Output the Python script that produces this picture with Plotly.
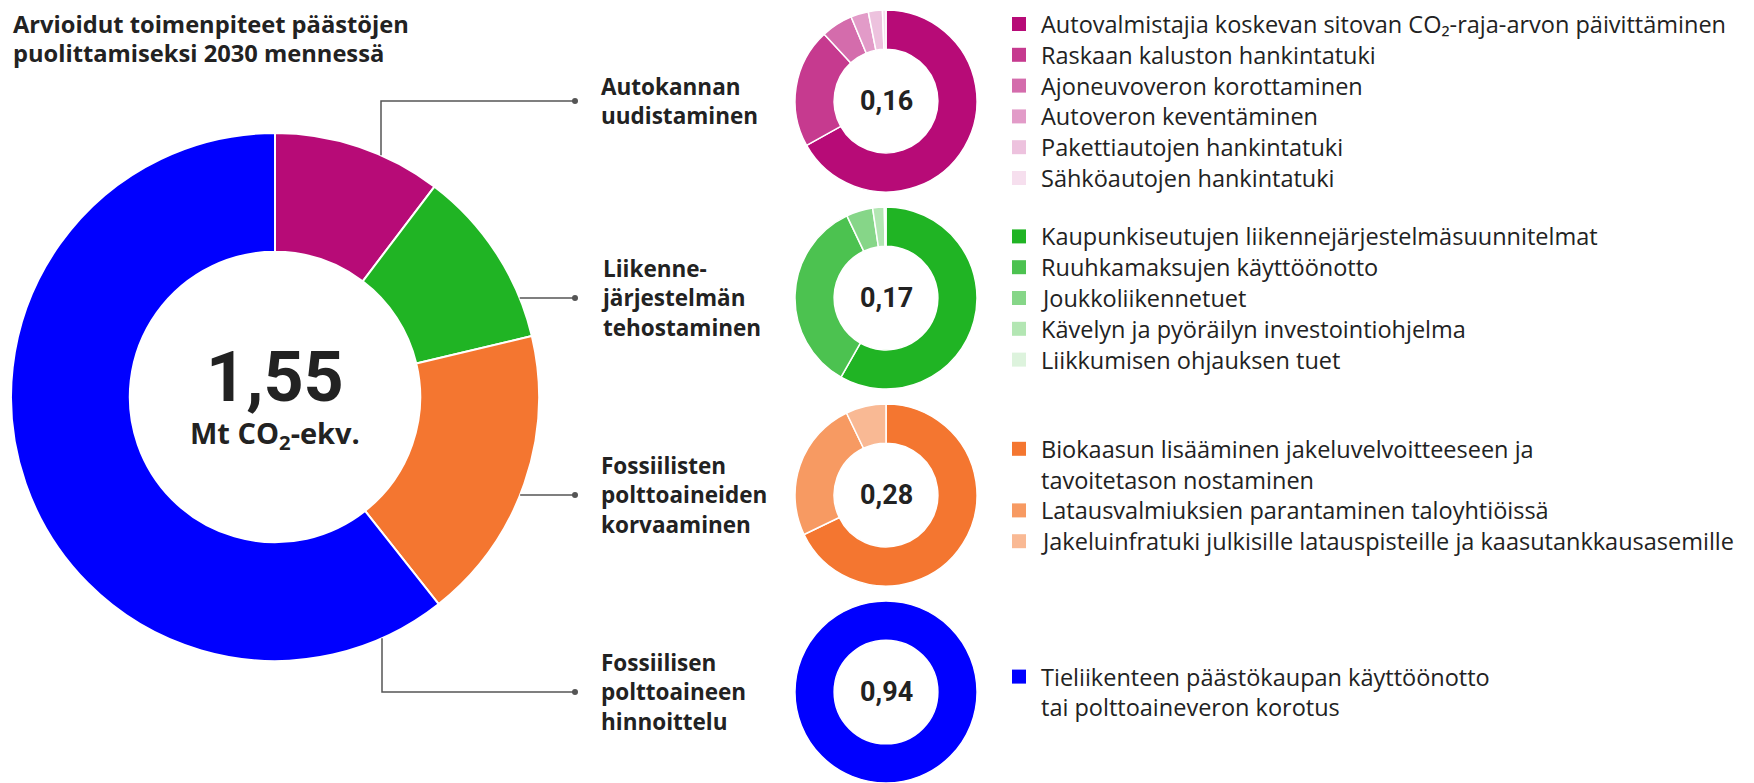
import plotly.graph_objects as go
import math

# sivun body-marginaali (8 px) siirtää kuvaa, joten kuva on hieman pienempi kuin ikkuna
W, H = 1746, 775
OFF = 8

# --- data ---
otsikko = ["Arvioidut toimenpiteet päästöjen", "puolittamiseksi 2030 mennessä"]
yksikko = "Mt CO<sub>2</sub>-ekv."

ryhmat = [
    ["Autokannan", "uudistaminen"],
    ["Liikenne-", "järjestelmän", "tehostaminen"],
    ["Fossiilisten", "polttoaineiden", "korvaaminen"],
    ["Fossiilisen", "polttoaineen", "hinnoittelu"],
]
ryhma_arvot = [0.16, 0.17, 0.28, 0.94]
ryhma_varit = ["#B70B77", "#20B424", "#F47630", "#0000FF"]

auto_toimet = [
    ["Autovalmistajia koskevan sitovan CO₂-raja-arvon päivittäminen"],
    ["Raskaan kaluston hankintatuki"],
    ["Ajoneuvoveron korottaminen"],
    ["Autoveron keventäminen"],
    ["Pakettiautojen hankintatuki"],
    ["Sähköautojen hankintatuki"],
]
auto_arvot = [0.107, 0.034, 0.009, 0.005, 0.004, 0.001]
auto_varit = ["#B70B77", "#C63A8F", "#D46CAC", "#E29BC8", "#EDC2DE", "#F6DFEE"]

liikenne_toimet = [
    ["Kaupunkiseutujen liikennejärjestelmäsuunnitelmat"],
    ["Ruuhkamaksujen käyttöönotto"],
    ["Joukkoliikennetuet"],
    ["Kävelyn ja pyöräilyn investointiohjelma"],
    ["Liikkumisen ohjauksen tuet"],
]
liikenne_arvot = [0.099, 0.059, 0.008, 0.0035, 0.0005]
liikenne_varit = ["#20B424", "#4CC250", "#86D688", "#B3E6B3", "#DDF3DD"]

fossiili_toimet = [
    ["Biokaasun lisääminen jakeluvelvoitteeseen ja", "tavoitetason nostaminen"],
    ["Latausvalmiuksien parantaminen taloyhtiöissä"],
    ["Jakeluinfratuki julkisille latauspisteille ja kaasutankkausasemille"],
]
fossiili_arvot = [0.19, 0.07, 0.02]
fossiili_varit = ["#F47630", "#F79A62", "#F9B994"]

hinnoittelu_toimet = [
    ["Tieliikenteen päästökaupan käyttöönotto", "tai polttoaineveron korotus"],
]
hinnoittelu_arvot = [0.94]
hinnoittelu_varit = ["#0000FF"]

alaryhmat = [
    (auto_toimet, auto_arvot, auto_varit),
    (liikenne_toimet, liikenne_arvot, liikenne_varit),
    (fossiili_toimet, fossiili_arvot, fossiili_varit),
    (hinnoittelu_toimet, hinnoittelu_arvot, hinnoittelu_varit),
]

# --- apufunktiot (näytön pikselit -> paper) ---
TEKSTI = "#222222"
FONTTI = "Open Sans"
NUMEROT = "Roboto"


def px_x(x):
    return (x - OFF) / W


def px_y(y):
    return 1 - (y - OFF) / H


def domain(cx, cy, r):
    return dict(x=[px_x(cx - r), px_x(cx + r)], y=[px_y(cy + r), px_y(cy - r)])


def fmt(v):
    return f"{v:.2f}".replace(".", ",")


fig = go.Figure()
annot = []
shapes = []


def teksti(t, x, y, size, fam=FONTTI, bold=False, xanchor="left"):
    annot.append(dict(
        text=t, x=px_x(x), y=px_y(y), xref="paper", yref="paper",
        xanchor=xanchor, yanchor="middle", align="left", showarrow=False,
        font=dict(family=fam, size=size, color=TEKSTI, weight=700 if bold else 400),
    ))


def rivit(lines, x, yc, step, size, bold=False):
    y0 = yc - (len(lines) - 1) * step / 2
    for i, t in enumerate(lines):
        teksti(t, x, y0 + i * step, size, bold=bold)


# iso donitsi
MCX, MCY, MR = 275, 397, 264
fig.add_trace(go.Pie(
    labels=[" ".join(r) for r in ryhmat], values=ryhma_arvot,
    marker=dict(colors=ryhma_varit, line=dict(color="white", width=2)),
    hole=0.55, sort=False, direction="clockwise", rotation=0,
    textinfo="none", hoverinfo="label+value", domain=domain(MCX, MCY, MR),
    showlegend=False,
))
teksti(fmt(sum(ryhma_arvot)), MCX, 377, 70, fam=NUMEROT, bold=True, xanchor="center")
teksti(yksikko, MCX, 434, 29, bold=True, xanchor="center")

# otsikko
rivit(otsikko, 11, 38.5, 28.5, 23.7, bold=True)

# pienet donitsit, nimet ja selitteet
SCX, SR = 886, 91
keskukset = [101, 298, 495, 692]
for i, (toimet, arvot, varit) in enumerate(alaryhmat):
    cy = keskukset[i]
    fig.add_trace(go.Pie(
        labels=[" ".join(t) for t in toimet], values=arvot,
        marker=dict(colors=varit, line=dict(color="white", width=1.5)),
        hole=0.57, sort=False, direction="clockwise", rotation=0,
        textinfo="none", hoverinfo="label+value", domain=domain(SCX, cy, SR),
        showlegend=False,
    ))
    teksti(fmt(ryhma_arvot[i]), SCX, cy, 27, fam=NUMEROT, bold=True, xanchor="center")
    # ryhmän nimi yhtenä tekstinä, rivit <br>:llä
    teksti("<br>".join(ryhmat[i]), 599, cy, 22.5, bold=True)

    # selite keskitetään donitsin kohdalle
    step = 30.8
    n = sum(len(t) for t in toimet)
    y = cy - (n - 1) * step / 2
    for t, c in zip(toimet, varit):
        shapes.append(dict(type="rect", xref="paper", yref="paper",
                           x0=px_x(1012), x1=px_x(1026), y0=px_y(y + 7), y1=px_y(y - 7),
                           fillcolor=c, line=dict(width=0)))
        rivit(t, 1039, y + (len(t) - 1) * step / 2, step, 23.5)
        y += len(t) * step

# yhdysviivat
VIIVA = "#555555"
DOT_X = 575


def reuna_y(x, ala=False):
    d = math.sqrt(MR ** 2 - (x - MCX) ** 2)
    return MCY + d if ala else MCY - d


def reuna_x(y):
    return MCX + math.sqrt(MR ** 2 - (y - MCY) ** 2)


def polku(pts):
    s = "M " + " L ".join(f"{px_x(x)},{px_y(y)}" for x, y in pts)
    shapes.append(dict(type="path", path=s, xref="paper", yref="paper",
                       line=dict(color=VIIVA, width=1.5)))


polku([(381, reuna_y(381)), (381, keskukset[0]), (DOT_X, keskukset[0])])
polku([(reuna_x(keskukset[1]), keskukset[1]), (DOT_X, keskukset[1])])
polku([(reuna_x(keskukset[2]), keskukset[2]), (DOT_X, keskukset[2])])
polku([(382, reuna_y(382, ala=True)), (382, keskukset[3]), (DOT_X, keskukset[3])])
for cy in keskukset:
    shapes.append(dict(type="circle", xref="paper", yref="paper",
                       x0=px_x(DOT_X - 3), x1=px_x(DOT_X + 3), y0=px_y(cy + 3), y1=px_y(cy - 3),
                       fillcolor=VIIVA, line=dict(width=0)))

fig.update_layout(
    width=W, height=H,
    margin=dict(l=0, r=0, t=0, b=0),
    paper_bgcolor="white", plot_bgcolor="white",
    annotations=annot, shapes=shapes,
    font=dict(family=FONTTI, color=TEKSTI),
)

fig.write_html("out.html")
